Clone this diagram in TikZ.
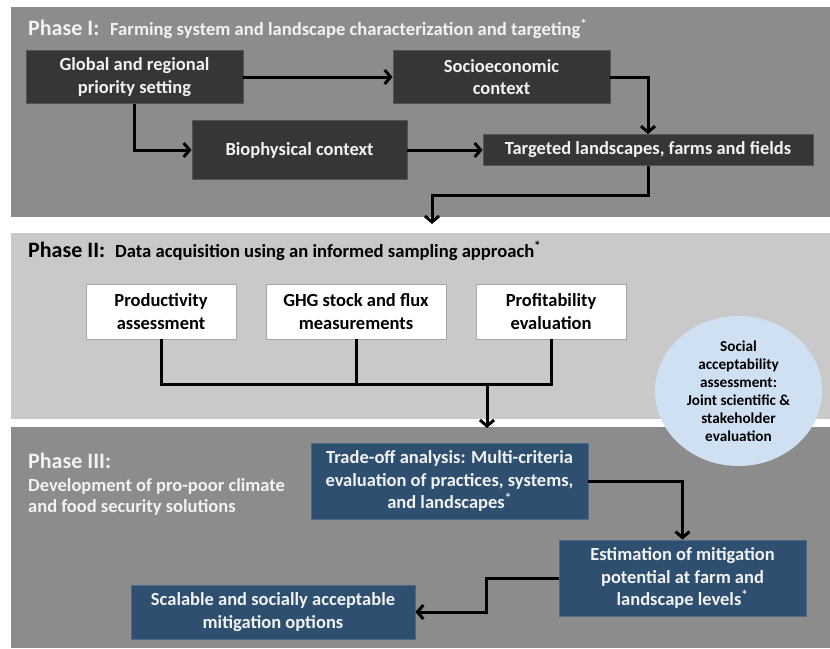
\documentclass[tikz,border=0pt]{standalone}
\usepackage{fontspec}
\setmainfont{Carlito}
\usetikzlibrary{arrows.meta,shapes.geometric}
\definecolor{panelgray}{HTML}{8C8C8C}
\definecolor{panellight}{HTML}{C9C9C9}
\definecolor{darkfill}{HTML}{363636}
\definecolor{bluefill}{HTML}{2E4F70}
\definecolor{circblue}{HTML}{CFE0F2}
\definecolor{lighttext}{HTML}{F2F2F2}
\begin{document}
\begin{tikzpicture}[x=1pt,y=-1pt,
  boxtext/.style={font=\bfseries\fontsize{18.5}{22.5}\selectfont, align=center, inner sep=0pt},
  darknode/.style={boxtext, fill=darkfill, draw=darkfill!85!white, line width=0.8pt, text=lighttext},
  whitenode/.style={boxtext, fill=white, draw=gray!70, line width=0.8pt, text=black},
  bluenode/.style={boxtext, fill=bluefill, draw=bluefill!85!white, line width=0.8pt, text=lighttext},
  bigtitle/.style={anchor=base west, inner sep=0pt, font=\bfseries\fontsize{22}{26}\selectfont},
  subtitle/.style={anchor=base west, inner sep=0pt, font=\bfseries\fontsize{18.6}{22}\selectfont},
  bodytitle/.style={anchor=base west, inner sep=0pt, font=\bfseries\fontsize{18.5}{21}\selectfont},
  wire/.style={line width=3pt, black},
  conn/.style={wire, -{Straight Barb[length=6pt,width=14pt]}}
]
\useasboundingbox (0,0) rectangle (830,648);
\fill[white] (0,0) rectangle (830,648);
% panels
\fill[panelgray] (11,7) rectangle (830,217);
\fill[panellight] (11,233) rectangle (830,419);
\fill[panelgray] (11,427) rectangle (830,648);

% Phase I
\node[bigtitle, text=lighttext] (t1) at (28,35) {Phase I:};
\node[subtitle, text=lighttext] (t1b) at (110,35) {Farming system and landscape characterization and targeting\textsuperscript{*}};
\node[darknode, minimum width=217, minimum height=53] (glob) at (134.5,77) {Global and regional\\priority setting};
\node[darknode, minimum width=217, minimum height=53] (socio) at (501.5,77) {Socioeconomic\\context};
\node[darknode, minimum width=215, minimum height=59] (bio) at (299.5,150) {Biophysical context};
\node[darknode, minimum width=330, minimum height=31] (targ) at (648,150) {Targeted landscapes, farms and fields};
\draw[conn] (glob.east) -- (socio.west);
\draw[conn] (glob.south) |- (bio.west);
\draw[conn] (bio.east) -- (targ.west);
\draw[conn] (socio.east) -| (targ.north);
\coordinate (p2in) at (432,224);
\draw[conn] (targ.south) -- ++(0,29.5) -| (p2in);

% Phase II
\node[bigtitle, text=black] (t2) at (28,257) {Phase II:};
\node[subtitle, text=black] (t2b) at (115,257) {Data acquisition using an informed sampling approach\textsuperscript{*}};
\node[whitenode, minimum width=150, minimum height=55] (prod) at (161,311.5) {Productivity\\assessment};
\node[whitenode, minimum width=180, minimum height=55] (ghg) at (356,311.5) {GHG stock and flux\\measurements};
\node[whitenode, minimum width=150, minimum height=55] (prof) at (551,311.5) {Profitability\\evaluation};
\coordinate (jn) at (487,384);
\coordinate (p3in) at (487,428);
\draw[wire] (prod.south) -- (prod.south |- jn) -- (prof.south |- jn) -- (prof.south);
\draw[wire] (ghg.south) -- (ghg.south |- jn);
\draw[conn] (jn) -- (p3in);

% Phase III
\node[bigtitle, text=lighttext] (t3) at (28,468) {Phase III:};
\node[bodytitle, text=lighttext] (t3b) at (28,491) {Development of pro-poor climate};
\node[bodytitle, text=lighttext] (t3c) at (28,512) {and food security solutions};
\node[bluenode, minimum width=277, minimum height=76] (trade) at (449.5,481) {Trade-off analysis: Multi-criteria\\evaluation of practices, systems,\\and landscapes\textsuperscript{*}};
\node[bluenode, minimum width=247, minimum height=76] (est) at (682.5,578) {Estimation of mitigation\\potential at farm and\\landscape levels\textsuperscript{*}};
\node[bluenode, minimum width=284, minimum height=54] (scal) at (273,612) {Scalable and socially acceptable\\mitigation options};
\draw[conn] (trade.east) -| (est.north);
\draw[conn] (est.west) -- ++(-72,0) |- (scal.east);

% social acceptability ellipse
\node[ellipse, fill=circblue, minimum width=167, minimum height=150, inner sep=0pt, align=center,
  font=\bfseries\fontsize{15.2}{18}\selectfont, text=black] (circ) at (738.5,391)
  {Social\\acceptability\\assessment:\\Joint scientific \&\\stakeholder\\evaluation};
\end{tikzpicture}
\end{document}
